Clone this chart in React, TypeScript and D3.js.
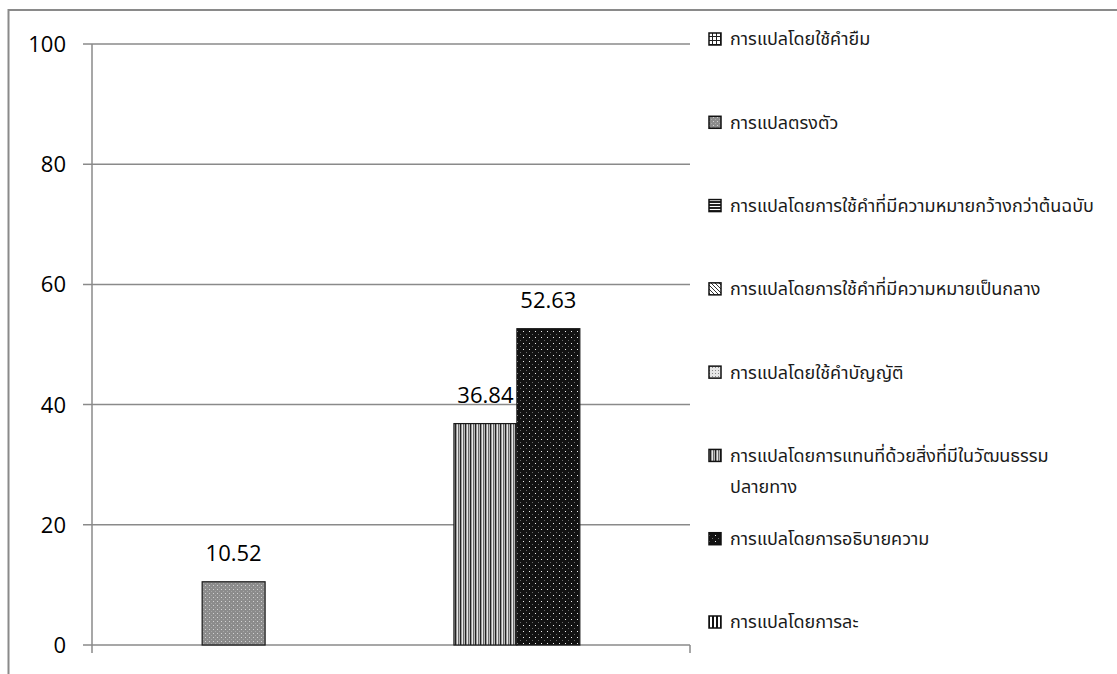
import React from "react";
import * as d3 from "d3";

const seriesNames = [
  "การแปลโดยใช้คำยืม",
  "การแปลตรงตัว",
  "การแปลโดยการใช้คำที่มีความหมายกว้างกว่าต้นฉบับ",
  "การแปลโดยการใช้คำที่มีความหมายเป็นกลาง",
  "การแปลโดยใช้คำบัญญัติ",
  "การแปลโดยการแทนที่ด้วยสิ่งที่มีในวัฒนธรรม ปลายทาง",
  "การแปลโดยการอธิบายความ",
  "การแปลโดยการละ",
];
const seriesValues = [0, 10.52, 0, 0, 0, 36.84, 52.63, 0];
const yTicks = [0, 20, 40, 60, 80, 100];

const W = 1117;
const H = 674;
const plot = { left: 92, right: 690, top: 44, bottom: 645 };
const grid = "#8a8a8a";
const axisFont = "'Open Sans', 'Liberation Sans', sans-serif";
const thaiFont = "'Noto Sans Thai', 'Noto Sans Thai Looped', Tahoma, 'Noto Sans', 'DejaVu Sans', sans-serif";

function Patterns() {
  return (
    <defs>
      <pattern id="p0" width="4" height="4" patternUnits="userSpaceOnUse">
        <rect width="4" height="4" fill="#fff" />
        <rect width="4" height="1" fill="#222" />
        <rect width="1" height="4" fill="#222" />
      </pattern>
      <pattern id="p1" width="4" height="4" patternUnits="userSpaceOnUse">
        <rect width="4" height="4" fill="#8c8c8c" />
        <rect x="1" y="1" width="1" height="1" fill="#d2d2d2" />
        <rect x="3" y="3" width="1" height="1" fill="#a8a8a8" />
      </pattern>
      <pattern id="p2" width="3" height="3" patternUnits="userSpaceOnUse">
        <rect width="3" height="3" fill="#fff" />
        <rect width="3" height="2" fill="#222" />
      </pattern>
      <pattern id="p3" width="4" height="4" patternUnits="userSpaceOnUse">
        <rect width="4" height="4" fill="#fff" />
        <path d="M0,0 L4,4 M-1,3 L1,5 M3,-1 L5,1" stroke="#333" strokeWidth="1" />
      </pattern>
      <pattern id="p4" width="3" height="3" patternUnits="userSpaceOnUse">
        <rect width="3" height="3" fill="#e6e6e6" />
        <rect x="1" y="1" width="1" height="1" fill="#888" />
      </pattern>
      <pattern id="p5" width="5" height="5" patternUnits="userSpaceOnUse">
        <rect width="5" height="5" fill="#e8e8e8" />
        <rect x="0" width="1" height="5" fill="#222" />
        <rect x="1" width="1" height="5" fill="#9a9a9a" />
        <rect x="3" width="1" height="5" fill="#6a6a6a" />
        <rect x="4" width="1" height="5" fill="#b8b8b8" />
      </pattern>
      <pattern id="p6" width="6" height="6" patternUnits="userSpaceOnUse">
        <rect width="6" height="6" fill="#121212" />
        <rect x="1" y="1" width="1" height="1" fill="#f0f0f0" />
        <rect x="4" y="4" width="1" height="1" fill="#6a6a6a" />
      </pattern>
      <pattern id="p7" width="4" height="4" patternUnits="userSpaceOnUse">
        <rect width="4" height="4" fill="#fff" />
        <rect width="2" height="4" fill="#111" />
      </pattern>
    </defs>
  );
}

export default function App() {
  const x = d3
    .scaleBand<string>()
    .domain(seriesNames)
    .range([plot.left, plot.right])
    .paddingInner(0)
    .paddingOuter(0.75);
  const y = d3.scaleLinear().domain([0, 100]).range([plot.bottom, plot.top]);
  const legendY = d3
    .scalePoint<string>()
    .domain(seriesNames)
    .range([39, 622]);

  return (
    <svg
      width={W}
      height={H}
      style={{ position: "absolute", left: 0, top: 0, background: "#fff" }}
    >
      <Patterns />
      <rect x={8.5} y={10} width={1300} height={900} fill="#fff" stroke="#8a8a8a" strokeWidth={2} />
      {yTicks.map((t) => (
        <g key={t}>
          <line x1={83} x2={plot.right} y1={y(t)} y2={y(t)} stroke={grid} strokeWidth={1.5} />
          <text
            x={66}
            y={y(t)}
            dy="0.36em"
            textAnchor="end"
            fontFamily={axisFont}
            fontSize={22}
            fill="#000"
          >
            {t}
          </text>
        </g>
      ))}
      <line x1={plot.left} x2={plot.left} y1={plot.top} y2={plot.bottom + 8} stroke={grid} strokeWidth={1.5} />
      <line x1={plot.right} x2={plot.right} y1={plot.bottom} y2={plot.bottom + 8} stroke={grid} strokeWidth={1.5} />
      {seriesNames.map((s, i) =>
        seriesValues[i] > 0 ? (
          <g key={s}>
            <rect
              x={x(s)!}
              y={y(seriesValues[i])}
              width={x.bandwidth()}
              height={y(0) - y(seriesValues[i])}
              fill={`url(#p${i})`}
              stroke="#1a1a1a"
              strokeWidth={1.2}
            />
            <text
              x={x(s)! + x.bandwidth() / 2}
              y={y(seriesValues[i]) - 21}
              textAnchor="middle"
              fontFamily={axisFont}
              fontSize={22}
              fill="#000"
            >
              {seriesValues[i].toFixed(2)}
            </text>
          </g>
        ) : null
      )}
      {seriesNames.map((s, i) => {
        const cy = legendY(s)!;
        const lines = s.split(" ");
        return (
          <g key={s}>
            <rect
              x={709}
              y={cy - 6}
              width={12}
              height={12}
              fill={`url(#p${i})`}
              stroke="#111"
              strokeWidth={1.5}
            />
            {lines.map((ln, j) => (
              <text
                key={j}
                x={730}
                y={cy + j * 31}
                dy="0.36em"
                fontFamily={thaiFont}
                fontSize={18}
                fill="#1a1a1a"
              >
                {ln}
              </text>
            ))}
          </g>
        );
      })}
    </svg>
  );
}
